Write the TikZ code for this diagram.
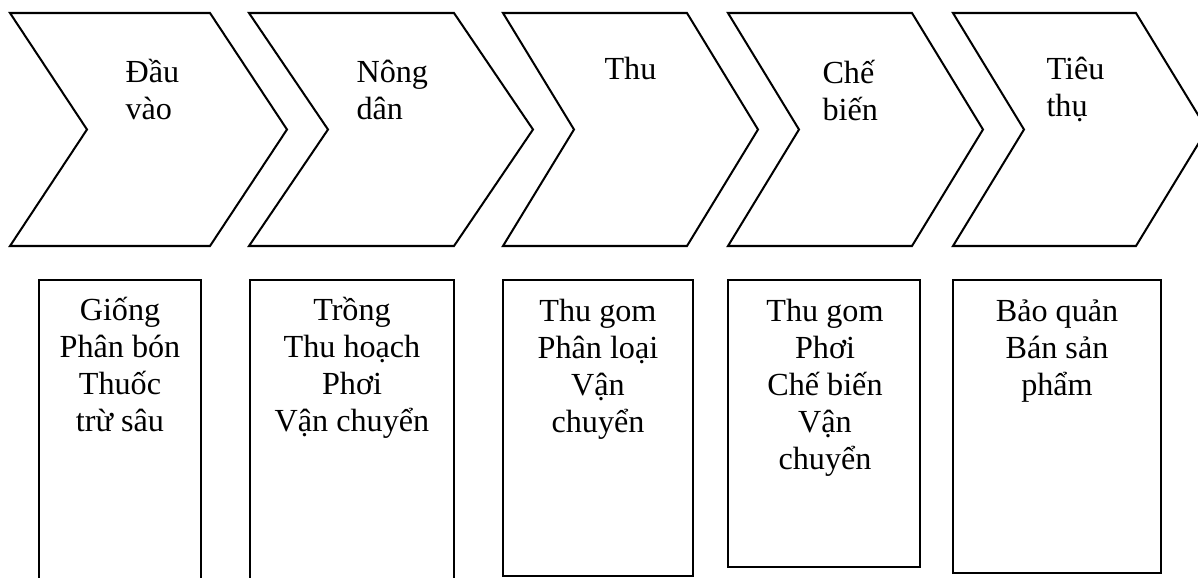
\documentclass[tikz,border=0pt]{standalone}
\usepackage{fontspec}
\setmainfont{Liberation Serif}
\usepackage{tikz}

\begin{document}
\begin{tikzpicture}[
    x=0.373pt,
    y=-0.373pt,
    chevron/.style={
        draw,
        line width=0.75pt,
        line join=miter
    },
    stagebox/.style={
        draw,
        line width=0.75pt
    },
    % base of a multi-line node = baseline of its last line
    stagelabel/.style={
        anchor=base west,
        align=left,
        inner sep=0pt,
        font=\fontsize{12pt}{13.8pt}\selectfont
    },
    tasklist/.style={
        anchor=base,
        align=center,
        inner sep=0pt,
        font=\fontsize{12pt}{13.8pt}\selectfont
    }
]

\clip (0,0) rectangle (1198,578);

% ============================================================
% CHAIN STAGES
% ============================================================

\draw[chevron] (10,13) -- (210,13) -- (287,129.5) -- (210,246)
    -- (10,246) -- (87,129.5) -- cycle;
\draw[chevron] (249,13) -- (454,13) -- (533,129.5) -- (454,246)
    -- (249,246) -- (328,129.5) -- cycle;
\draw[chevron] (503,13) -- (687,13) -- (758,129.5) -- (687,246)
    -- (503,246) -- (574,129.5) -- cycle;
\draw[chevron] (728,13) -- (912,13) -- (983,129.5) -- (912,246)
    -- (728,246) -- (799,129.5) -- cycle;
\draw[chevron] (953,13) -- (1136,13) -- (1207,129.5) -- (1136,246)
    -- (953,246) -- (1024,129.5) -- cycle;

\node[stagelabel] (input) at (125,119) {Đầu\\vào};
\node[stagelabel] (farmer) at (356,119) {Nông\\dân};
\node[stagelabel] (collect) at (604,79) {Thu};
\node[stagelabel] (process) at (822,120) {Chế\\biến};
\node[stagelabel] (consume) at (1046,116) {Tiêu\\thụ};

% ============================================================
% ACTIVITIES
% ============================================================

\draw[stagebox] (39,280) rectangle (201,590);
\draw[stagebox] (250,280) rectangle (454,590);
\draw[stagebox] (503,280) rectangle (693,576);
\draw[stagebox] (728,280) rectangle (920,567);
\draw[stagebox] (953,280) rectangle (1161,573);

\node[tasklist] (inputtasks) at (120,431)
{
Giống\\
Phân bón\\
Thuốc\\
trừ sâu
};

\node[tasklist] (farmertasks) at (352,431)
{
Trồng\\
Thu hoạch\\
Phơi\\
Vận chuyển
};

\node[tasklist] (collecttasks) at (598,432)
{
Thu gom\\
Phân loại\\
Vận\\
chuyển
};

\node[tasklist] (processtasks) at (825,469)
{
Thu gom\\
Phơi\\
Chế biến\\
Vận\\
chuyển
};

\node[tasklist] (consumetasks) at (1057,395)
{
Bảo quản\\
Bán sản\\
phẩm
};

\end{tikzpicture}
\end{document}
